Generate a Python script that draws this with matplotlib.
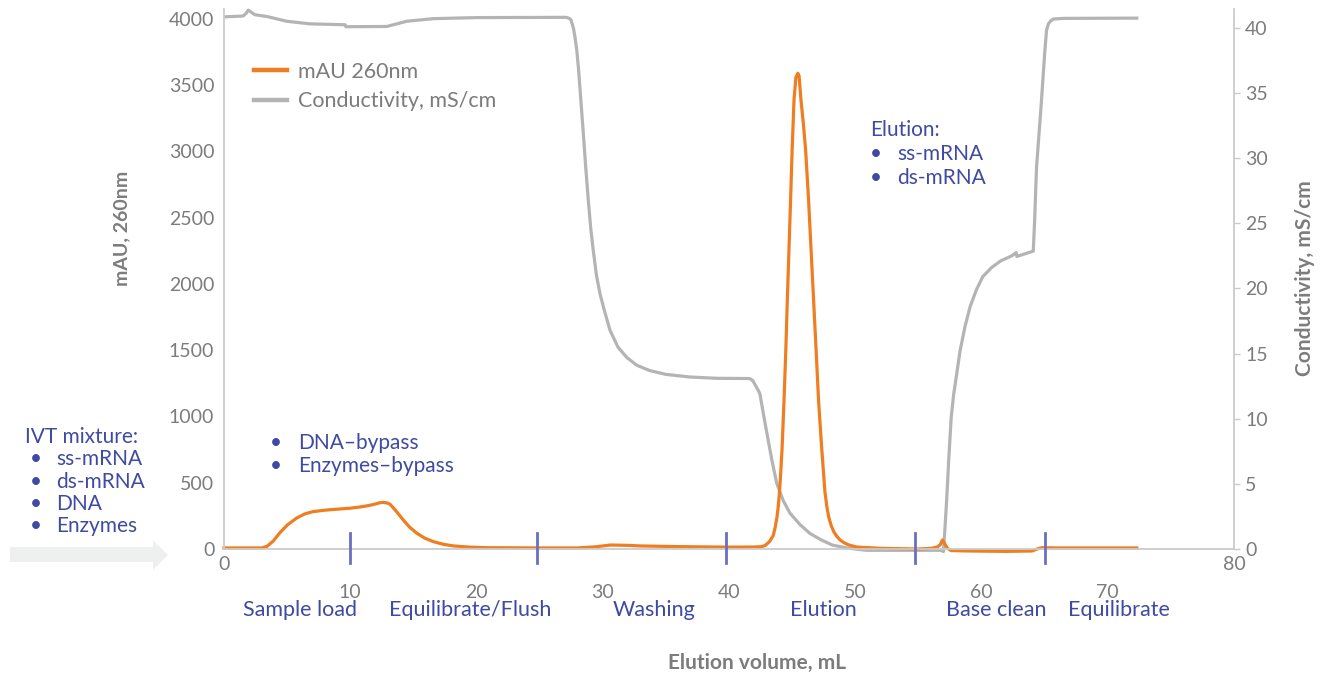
import numpy as np
import matplotlib
matplotlib.use("Agg")
import matplotlib.pyplot as plt
from matplotlib.patches import Polygon

plt.rcParams['font.family'] = ['Lato', 'DejaVu Sans']

# UV absorbance trace (mL, mAU 260nm)
uv_x = [0, 3.0, 3.4, 3.9, 4.4, 5.0, 5.76, 6.4, 7.05, 8.0, 8.9, 10.0, 10.77, 11.3, 11.8,
        12.3, 12.6, 12.9, 13.15, 13.6, 14.2, 14.7, 15.26, 15.9, 16.6, 17.4, 18.2, 19.5,
        20.8, 25, 28, 29.5, 30.6, 31.8, 33, 36, 40, 42.0, 42.5, 42.85, 43.2, 43.5, 43.65,
        43.8, 43.9, 44.0, 44.1, 44.2, 44.35, 44.5, 44.62, 44.75, 44.88, 45.0, 45.15, 45.3,
        45.46, 45.55, 45.7, 45.9, 46.07, 46.3, 46.5, 46.7, 46.9, 47.1, 47.35, 47.6, 47.75,
        47.9, 48.1, 48.3, 48.55, 48.8, 49.1, 49.5, 50.1, 52, 55, 56.0, 56.5, 56.75, 56.9,
        57.05, 57.3, 57.6, 59, 62, 64.0, 64.4, 64.8, 66, 72.3]
uv_y = [8, 8, 20, 60, 120, 180, 234, 265, 282, 293, 300, 308, 317, 325, 335,
        348, 352, 348, 338, 290, 219, 165, 120, 82, 55, 35, 23, 14,
        10, 8, 8, 17, 30, 28, 23, 18, 14, 15, 17, 25, 55, 100, 160,
        240, 320, 430, 580, 750, 1100, 1500, 1880, 2260, 2640, 3010, 3390, 3560,
        3590, 3570, 3390, 3200, 3010, 2640, 2260, 1880, 1500, 1110, 750, 430, 320,
        240, 175, 130, 95, 68, 48, 30, 15, 5, 0, 5, 15, 35, 68,
        45, 5, -12, -15, -18, -15, 0, 10, 8, 8]

# conductivity trace (mL, mS/cm)
cond_x = [0.08, 1.5, 1.75, 1.92, 2.15, 2.44, 3.38, 4.96, 6.8, 9.6, 9.65, 12.9, 14.47, 16.6,
          20, 27.1, 27.4, 27.5, 27.67, 27.8, 27.95, 28.07, 28.2, 28.46, 28.65, 28.86, 29.05,
          29.25, 29.5, 29.78, 30.1, 30.57, 31.2, 31.9, 32.7, 33.7, 35, 36.9, 39, 41.66, 41.9,
          42.3, 42.45, 42.7, 43.0, 43.4, 43.78, 44.3, 44.83, 45.6, 46.4, 47.3, 48.2, 49.5,
          50.9, 56.8, 56.98, 57.1, 57.24, 57.4, 57.6, 57.8, 58.0, 58.3, 58.7, 59.1, 59.6,
          60.1, 60.8, 61.5, 62.4, 62.75, 62.8, 64.1, 64.2, 64.36, 64.75, 65.0, 65.15, 65.3,
          65.5, 65.7, 66.5, 72.3]
cond_y = [40.84, 40.9, 41.1, 41.35, 41.2, 41.0, 40.87, 40.5, 40.3, 40.23, 40.08, 40.1, 40.5, 40.7,
          40.78, 40.8, 40.7, 40.55, 40.0, 39.3, 38.2, 36.96, 35.3, 31.9, 29.3, 26.7, 24.6,
          22.9, 21.0, 19.6, 18.4, 16.8, 15.5, 14.7, 14.1, 13.7, 13.4, 13.2, 13.1, 13.08, 12.9,
          12.2, 11.9, 10.5, 8.9, 6.8, 5.05, 3.7, 2.75, 1.9, 1.2, 0.7, 0.3, 0.05,
          -0.1, -0.1, -0.2, 1.5, 3.75, 6.8, 10.1, 11.9, 13.2, 15.2, 17.1, 18.6, 19.9,
          20.9, 21.6, 22.1, 22.5, 22.75, 22.45, 22.86, 25, 29.3, 34.4, 38.0, 39.8, 40.3,
          40.55, 40.67, 40.72, 40.74]

# phase boundaries and labels
marks = [10, 24.8, 39.8, 54.7, 65]
phases = ["Sample load", "Equilibrate/Flush", "Washing", "Elution", "Base clean", "Equilibrate"]
phase_x = [6.0, 19.5, 34.1, 47.5, 61.2, 70.9]

orange = '#ef7d22'
grey = '#b4b4b4'
blue = '#3f4aa2'
mark_blue = '#6a70bf'
txt_grey = '#7c7c7c'
spine_c = '#cbcbcb'

W, H = 1327, 675
fig = plt.figure(figsize=(W / 100, H / 100), dpi=100)
ax = fig.add_axes([224 / W, 126 / H, 1010 / W, 540 / H])
ax2 = ax.twinx()
ax.set_zorder(ax2.get_zorder() + 1)
ax.patch.set_visible(False)

l1, = ax.plot(uv_x, uv_y, color=orange, lw=2.3, label='mAU 260nm', clip_on=False)
l2, = ax2.plot(cond_x, cond_y, color=grey, lw=2.3, label='Conductivity, mS/cm', clip_on=False)

ax.set_xlim(0, 80)
ax.set_ylim(0, 4075)
ax2.set_ylim(0, 41.44)

ax.set_yticks(np.arange(0, 4001, 500))
ax2.set_yticks(np.arange(0, 41, 5))
ax.set_xticks(np.arange(0, 81, 10))

for a in (ax, ax2):
    for s in a.spines.values():
        s.set_visible(False)
ax.spines['left'].set_visible(True)
ax.spines['bottom'].set_visible(True)
ax2.spines['right'].set_visible(True)
for s in (ax.spines['left'], ax.spines['bottom'], ax2.spines['right']):
    s.set_color(spine_c)
    s.set_linewidth(1.3)

ax.tick_params(axis='y', length=0, pad=7, labelsize=14, labelcolor=txt_grey)
ax.tick_params(axis='x', length=0, labelsize=14, labelcolor=txt_grey)
ax2.tick_params(axis='y', length=4, width=1, color=spine_c, pad=4, labelsize=14, labelcolor=txt_grey)
for t, v in zip(ax.xaxis.get_major_ticks(), ax.get_xticks()):
    t.set_pad(5 if v in (0, 80) else 25)

# phase markers
for m in marks:
    ax.plot([m, m], [120, -105], color=mark_blue, lw=2, clip_on=False, zorder=5)
for name, px in zip(phases, phase_x):
    ax.text(px, -0.113, name, transform=ax.get_xaxis_transform(), ha='center', va='center',
            color=blue, fontsize=15.5)

leg = ax.legend(handles=[l1, l2], loc='upper left', bbox_to_anchor=(254 / W, 1 - 62 / H),
                bbox_transform=fig.transFigure, frameon=False, fontsize=15.5, handlelength=1.55,
                handletextpad=0.5, labelspacing=0.42, borderpad=0, borderaxespad=0)
for t in leg.get_texts():
    t.set_color(txt_grey)
for h in leg.get_lines():
    h.set_linewidth(3.2)

def ftext(px, py, s, **kw):
    fig.text(px / W, 1 - py / H, s, va='center', **kw)

ftext(757, 663, "Elution volume, mL", ha='center', fontsize=15, fontweight='bold', color=txt_grey)
ftext(122, 228, "mAU, 260nm", ha='center', rotation=90, fontsize=14, fontweight='bold', color=txt_grey)
ftext(1305, 278, "Conductivity, mS/cm", ha='center', rotation=90, fontsize=15, fontweight='bold',
      color=txt_grey)

def bullet_block(x0, xb, xt, y0, title, items, dy):
    y = y0
    if title:
        ftext(x0, y, title, color=blue, fontsize=15)
        y += dy
    for it in items:
        ftext(xb, y, "\u2022", color=blue, fontsize=15, ha='center')
        ftext(xt, y, it, color=blue, fontsize=15)
        y += dy

bullet_block(25, 36, 56, 437, "IVT mixture:", ["ss-mRNA", "ds-mRNA", "DNA", "Enzymes"], 22.3)
bullet_block(275, 276, 298, 443, None, ["DNA\u2013bypass", "Enzymes\u2013bypass"], 23)
bullet_block(870, 876, 897, 130, "Elution:", ["ss-mRNA", "ds-mRNA"], 24)

# input arrow
arrow_px = [(10, 547), (153, 547), (153, 540), (168, 555), (153, 570), (153, 562), (10, 562)]
fig.patches.append(Polygon([(x / W, 1 - y / H) for x, y in arrow_px], closed=True,
                           transform=fig.transFigure, facecolor='#eef0ef', edgecolor='none'))

fig.savefig('out.png', dpi=100)
